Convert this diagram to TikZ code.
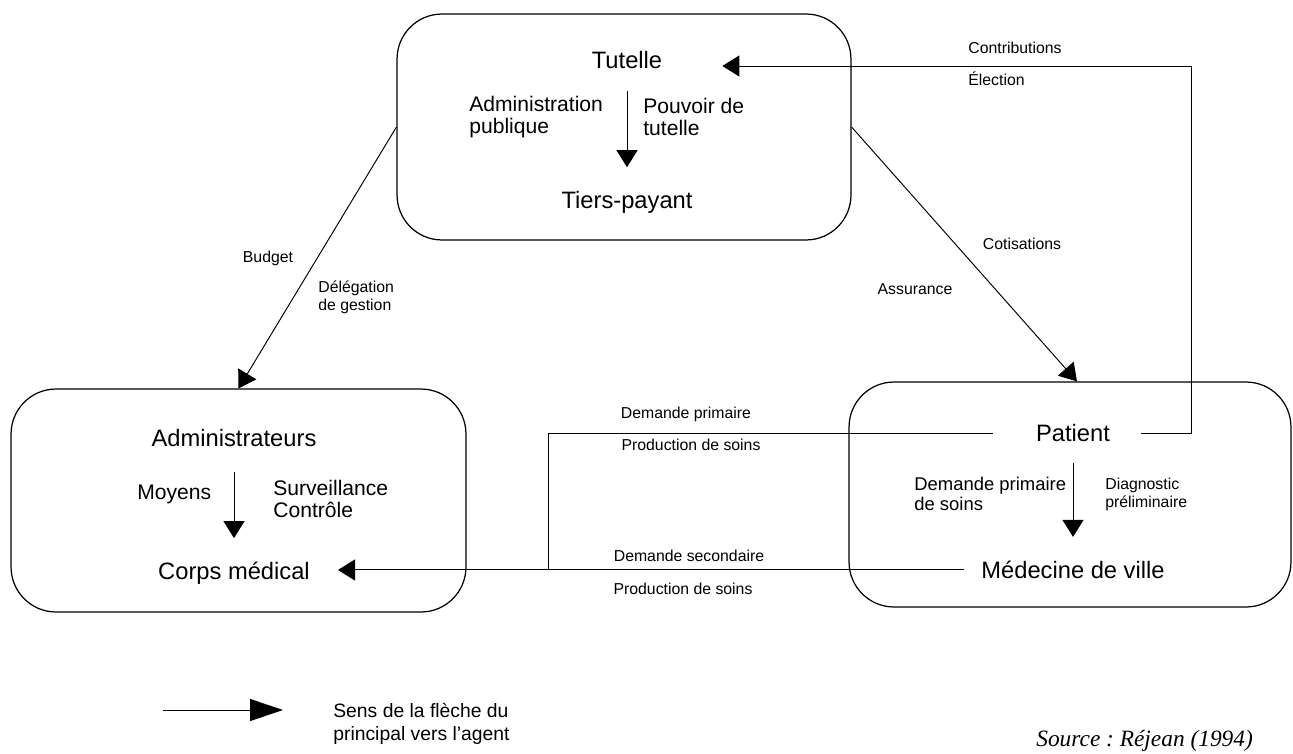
\documentclass[tikz,border=0pt]{standalone}
\usepackage{fontspec}
\setmainfont{Liberation Sans}
\newfontfamily\srcfont{Liberation Serif}
\usepackage{tikz}
\usetikzlibrary{arrows.meta,positioning}

\begin{document}
\begin{tikzpicture}[x=0.02cm, y=-0.02cm,
    panel/.style={draw, rounded corners=0.9cm, line width=0.7pt, inner sep=0pt},
    big/.style={font=\fontsize{13.5}{16}\selectfont},
    mid/.style={font=\fontsize{12}{13}\selectfont, align=left, inner sep=0pt},
    small/.style={font=\fontsize{9}{10.2}\selectfont, align=left, inner sep=0pt},
    link/.style={line width=0.55pt},
    tip/.style={link, -{Triangle[length=0.34cm, width=0.42cm]}},
    legtip/.style={link, -{Triangle[length=0.66cm, width=0.44cm]}}]
    \useasboundingbox (0,0) rectangle (1293,753);

    % the three actors
    \node[panel, minimum width=9.08cm, minimum height=4.52cm] (tutbox) at (624,127) {};
    \node[panel, minimum width=9.1cm, minimum height=4.46cm] (admbox) at (238.5,500.5) {};
    \node[panel, minimum width=8.84cm, minimum height=4.5cm] (patbox) at (1070,494.5) {};

    \node[big] (tutelle) at (627,60) {Tutelle};
    \node[big, below of=tutelle, node distance=2.85cm] (tiers) {Tiers-payant};
    \node[big] (admin) at (234,438.5) {Administrateurs};
    \node[big, below of=admin, node distance=2.7cm] (corps) {Corps médical};
    \node[big] (patient) at (1073,433.5) {Patient};
    \node[big, below of=patient, node distance=2.73cm] (medecine) {Médecine de ville};

    % inside the boxes
    \draw[tip, shorten <=0.32cm, shorten >=0.36cm] (tutelle) -- (tiers);
    \node[mid, anchor=west] (adpub) at (469,117) {Administration\\publique};
    \node[mid, anchor=west] (pouvoir) at (643,117) {Pouvoir de\\tutelle};

    \draw[tip, shorten <=0.38cm, shorten >=0.36cm] (admin) -- (corps);
    \node[mid, anchor=west] (moyens) at (137,494) {Moyens};
    \node[mid, anchor=west] (surv) at (273,499) {Surveillance\\Contrôle};

    \draw[tip, shorten <=0.3cm, shorten >=0.36cm] (patient) -- (medecine);
    \node[mid, font=\fontsize{10.5}{11}\selectfont, anchor=west] (dps) at (914,494) {Demande primaire\\de soins};
    \node[small, anchor=west] (diag) at (1105,494) {Diagnostic\\préliminaire};

    % between the boxes
    \draw[tip] (tutbox.west) -- (admbox.north);
    \node[small] (budget) at (268,258) {Budget};
    \node[small, anchor=west] (deleg) at (318,297) {Délégation\\de gestion};

    \draw[tip] (tutbox.east) -- ([xshift=0.14cm]patbox.north);
    \node[small] (cotis) at (1022,244) {Cotisations};
    \node[small] (assur) at (915,289) {Assurance};

    \coordinate (ctr) at (1191,66);
    \draw[tip, shorten <=0.5cm, shorten >=1.08cm] (patient.east) -| (ctr) -- (tutelle.east |- ctr);
    \node[small, anchor=west] (contrib) at (968,47.5) {Contributions};
    \node[small, anchor=west] (elect) at (968,79) {Élection};

    \coordinate (jn) at (548,570);
    \draw[link, shorten <=0.74cm] (patient.west) -| (jn);
    \draw[tip, shorten <=0.22cm, shorten >=0.44cm] (medecine.west) -- (medecine.west -| corps.east);
    \node[small] (dprim) at (686,414) {Demande primaire};
    \node[small] (prod1) at (691,445) {Production de soins};
    \node[small] (dsec) at (689,556) {Demande secondaire};
    \node[small] (prod2) at (683,589) {Production de soins};

    % legend and source
    \coordinate (lgs) at (163,710);
    \coordinate (lge) at (283,710);
    \draw[legtip] (lgs) -- (lge);
    \node[font=\fontsize{11}{13.5}\selectfont, align=left, inner sep=0pt, anchor=west] (legtxt) at (333,724) {Sens de la flèche du\\principal vers l’agent};
    \node[font=\srcfont\itshape\fontsize{13.3}{15}\selectfont\frenchspacing, inner sep=0pt, anchor=base west] (source) at (1036,746) {Source : Réjean (1994)};
\end{tikzpicture}
\end{document}
